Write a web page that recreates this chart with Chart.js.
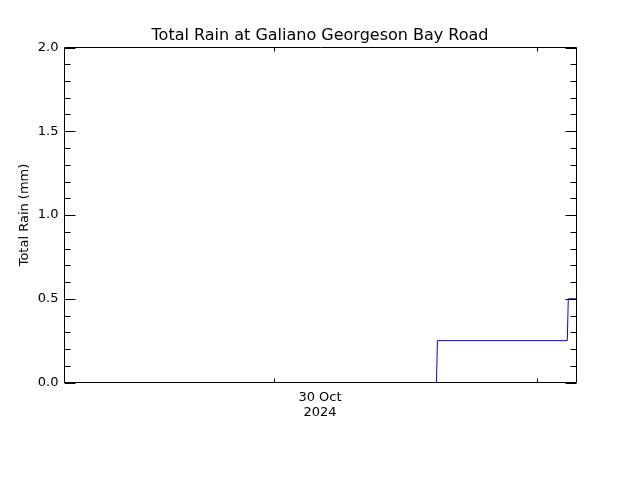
<!DOCTYPE html>
<html>
<head>
<meta charset="utf-8">
<script src="https://cdn.jsdelivr.net/npm/chart.js@4/dist/chart.umd.min.js"></script>
<style>
  html, body { margin: 0; padding: 0; background: #fff; }
  canvas { display: block; }
</style>
</head>
<body>
<canvas id="rain-chart" width="640" height="480"></canvas>
<script>
// hours since 29 Oct 2024 00:00
const timeHours = [4.85, 38.8, 38.89, 50.74, 50.83, 51.58];
const totalRain = [0, 0, 0.25, 0.25, 0.5, 0.5];

const xMin = 4.85;
const xMax = 51.58;
const dayTickHours = [24, 48];
const dateLabelHour = 28.17;
const dateLabel = ["30 Oct", "2024"];

const yMajorTicks = [0, 0.5, 1.0, 1.5, 2.0];
const yMinorTicks = [0.1, 0.2, 0.3, 0.4, 0.6, 0.7, 0.8, 0.9, 1.1, 1.2, 1.3, 1.4, 1.6, 1.7, 1.8, 1.9];

const FONT = "'DejaVu Sans', sans-serif";

// inward tick marks + frame, like the original plot
const frameTicks = {
  id: "frameTicks",
  afterDatasetsDraw(chart) {
    const { ctx, chartArea: a } = chart;
    const x = chart.scales.x;
    const y = chart.scales.y;

    ctx.save();
    ctx.strokeStyle = "#000";
    ctx.lineWidth = 1;
    ctx.beginPath();

    const yTick = (v, len) => {
      const py = Math.round(y.getPixelForValue(v)) + 0.5;
      ctx.moveTo(a.left, py);
      ctx.lineTo(a.left + len, py);
      ctx.moveTo(a.right, py);
      ctx.lineTo(a.right - len, py);
    };
    yMajorTicks.forEach((v) => yTick(v, 11));
    yMinorTicks.forEach((v) => yTick(v, 6));

    dayTickHours.forEach((h) => {
      const px = Math.round(x.getPixelForValue(h)) + 0.5;
      ctx.moveTo(px, a.bottom);
      ctx.lineTo(px, a.bottom - 4);
      ctx.moveTo(px, a.top);
      ctx.lineTo(px, a.top + 4);
    });

    ctx.rect(a.left, a.top, a.right - a.left, a.bottom - a.top);
    ctx.stroke();
    ctx.restore();
  },
};

new Chart(document.getElementById("rain-chart"), {
  type: "line",
  data: {
    datasets: [
      {
        data: timeHours.map((t, i) => ({ x: t, y: totalRain[i] })),
        borderColor: "#0000ff",
        borderWidth: 1,
        pointRadius: 0,
        tension: 0,
        fill: false,
      },
    ],
  },
  options: {
    responsive: false,
    animation: false,
    events: [],
    layout: { padding: 0 },
    plugins: {
      legend: { display: false },
      tooltip: { enabled: false },
      title: {
        display: true,
        text: "Total Rain at Galiano Georgeson Bay Road",
        color: "#000",
        font: { family: FONT, size: 16, weight: "normal", lineHeight: 1.2 },
        padding: { top: 26.5, bottom: 1.8 },
      },
    },
    scales: {
      x: {
        type: "linear",
        min: xMin,
        max: xMax,
        afterBuildTicks: (scale) => {
          scale.ticks = [{ value: dateLabelHour }];
        },
        afterFit: (scale) => {
          scale.height = 97.5;
        },
        grid: { display: false, drawTicks: false },
        border: { display: false },
        ticks: {
          padding: 8,
          color: "#000",
          maxRotation: 0,
          autoSkip: false,
          font: { family: FONT, size: 13, lineHeight: 1.15 },
          callback: () => dateLabel,
        },
      },
      y: {
        type: "linear",
        min: 0,
        max: 2,
        afterBuildTicks: (scale) => {
          scale.ticks = yMajorTicks.map((v) => ({ value: v }));
        },
        afterFit: (scale) => {
          scale.width = 64.5;
        },
        grid: { display: false, drawTicks: false },
        border: { display: false },
        ticks: {
          padding: 6,
          color: "#000",
          font: { family: FONT, size: 13 },
          callback: (v) => Number(v).toFixed(1),
        },
        title: {
          display: true,
          text: "Total Rain (mm)",
          color: "#000",
          font: { family: FONT, size: 13, lineHeight: 1.2 },
          padding: { top: 17, bottom: 0 },
        },
      },
      // empty right-hand axis, only to keep the plot box symmetric
      yRight: {
        type: "linear",
        position: "right",
        min: 0,
        max: 2,
        afterFit: (scale) => {
          scale.width = 63.5;
        },
        grid: { display: false, drawTicks: false },
        border: { display: false },
        ticks: { display: false },
      },
    },
  },
  plugins: [frameTicks],
});
</script>
</body>
</html>
